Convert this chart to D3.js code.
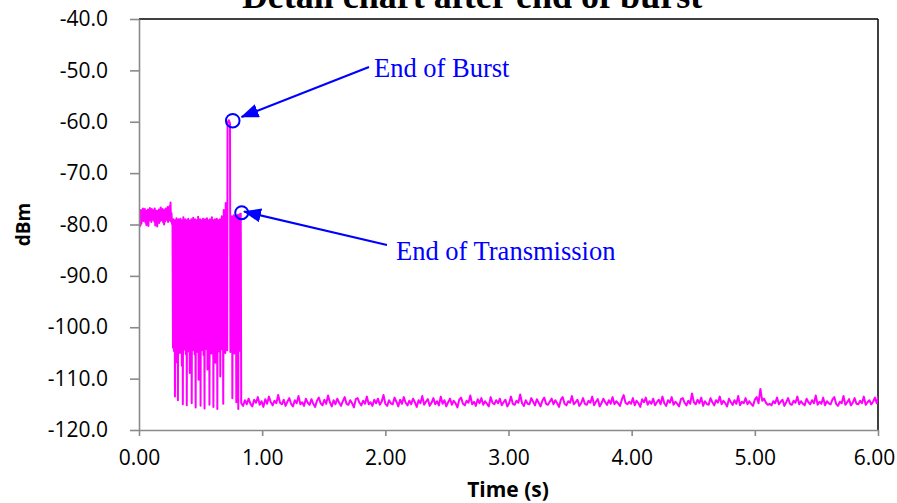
<!DOCTYPE html>
<html><head><meta charset="utf-8">
<script src="https://cdn.jsdelivr.net/npm/d3@7"></script>
<style>body{margin:0;background:#fff;} svg{display:block;}</style>
</head><body>
<svg id="chart" width="897" height="503"></svg>
<script>
// ---------------- DATA ----------------
const chartTitle = "Detail chart after end of burst";
const xLabel = "Time (s)";
const yLabel = "dBm";
const xTicks = [0, 1, 2, 3, 4, 5, 6];
const yTicks = [-40, -50, -60, -70, -80, -90, -100, -110, -120];

// idle signal before the burst (sampled every 4 ms from 0.000 s)
const preStart = 0.000, preStep = 0.004;
const preDbm = [
 -78.0,-80.4,-77.6,-80.2,-77.2,-79.8,-77.5,-79.0,-76.9,-79.3,
 -77.4,-78.8,-77.0,-79.6,-77.8,-80.1,-77.3,-79.9,-77.1,-80.3,
 -77.6,-79.2,-76.8,-78.9,-77.4,-79.5,-77.0,-79.1,-77.7,-78.7,
 -77.2,-79.4,-76.9,-80.2,-77.5,-79.8,-77.3,-80.4,-77.8,-79.0,
 -77.1,-79.7,-77.6,-79.3,-76.7,-78.8,-77.4,-79.2,-77.0,-79.6,
 -77.5,-80.0,-77.2,-79.4,-76.9,-79.1,-77.3,-78.9,-76.6,-79.5,
 -77.0,-79.2,-76.4,-79.0,-75.7,-79.4,-77.8,-79.9
];

// burst modulation (sampled every 4 ms from 0.272 s)
const burstStart = 0.272, burstStep = 0.004;
const burstDbm = [
 -79.2,-104.0,-79.0,-104.6,-79.3,-113.5,-79.1,-104.3,-78.8,-106.8,
 -79.2,-114.2,-79.0,-104.1,-79.4,-105.0,-78.9,-103.9,-79.1,-107.5,
 -79.2,-115.0,-78.6,-104.4,-79.3,-104.0,-79.0,-105.2,-79.2,-115.2,
 -79.1,-104.2,-78.9,-104.7,-79.2,-108.9,-79.3,-104.1,-79.0,-114.8,
 -79.1,-104.5,-78.7,-103.9,-79.2,-105.3,-79.0,-115.6,-79.3,-104.2,
 -79.1,-104.8,-78.5,-110.2,-79.2,-104.0,-79.0,-115.3,-79.2,-104.5,
 -79.1,-104.1,-78.9,-105.4,-79.3,-115.8,-79.0,-104.3,-79.2,-104.0,
 -78.8,-108.2,-79.1,-104.6,-79.2,-115.1,-79.0,-104.2,-79.3,-105.1,
 -78.6,-104.0,-79.1,-115.5,-79.2,-104.4,-79.0,-106.9,-79.2,-104.1,
 -78.9,-115.9,-79.1,-104.7,-79.3,-104.0,-79.0,-109.6,-79.2,-104.3,
 -78.4,-104.1,-79.1,-114.9,-77.2,-104.2,-79.0,-105.0,-75.8,-104.4,
 -79.2
];

// end-of-burst peak
const peakTime = [0.716, 0.719, 0.729, 0.739, 0.742];
const peakDbm  = [-104.5, -60.2, -59.7, -60.3, -104.8];

// tail of the transmission (sampled every 4 ms from 0.746 s)
const tailStart = 0.746, tailStep = 0.004;
const tailDbm = [
 -78.6,-104.2,-78.4,-113.8,-78.5,-104.5,-78.2,-105.1,-78.6,-104.0,
 -78.3,-114.6,-78.5,-104.3,-78.1,-115.9,-78.4,-104.6,-78.0,-104.2,
 -77.9
];

// noise floor after transmission (sampled every 15 ms from 0.830 s)
const floorStart = 0.830, floorStep = 0.015;
const floorDbm = [
 -114.8,-115.3,-114.2,-115.0,-113.9,-114.9,-115.4,-114.1,-114.7,-113.6,-115.1,-114.4,-115.5,-114.0,-114.9,-113.5,-114.6,-115.2,-114.3,-114.8,
 -113.2,-114.7,-115.0,-114.1,-115.3,-114.5,-113.8,-114.9,-115.4,-114.2,-114.8,-113.4,-115.0,-114.6,-115.3,-113.9,-114.7,-115.1,-114.0,-114.9,
 -115.5,-114.3,-113.7,-114.8,-115.2,-114.1,-114.9,-113.3,-114.6,-115.4,-114.2,-115.0,-113.9,-114.7,-115.3,-114.4,-113.6,-114.9,-115.1,-114.2,
 -114.8,-115.6,-114.0,-113.8,-114.7,-115.2,-114.3,-114.9,-113.5,-115.0,-114.6,-115.3,-114.1,-114.8,-113.9,-115.1,-114.5,-113.2,-114.9,-115.3,
 -114.2,-114.8,-115.0,-113.7,-114.5,-115.4,-114.1,-114.9,-113.6,-114.7,-115.2,-114.3,-115.0,-113.9,-114.6,-115.5,-114.2,-114.8,-113.4,-115.1,
 -114.5,-114.0,-115.3,-114.7,-113.8,-115.0,-114.4,-115.2,-113.5,-114.9,-114.2,-115.4,-114.6,-113.9,-115.1,-114.3,-114.8,-115.6,-114.1,-113.7,
 -114.9,-115.2,-114.3,-114.7,-113.3,-115.0,-114.5,-115.3,-114.0,-114.8,-113.8,-115.1,-114.4,-114.9,-115.4,-113.6,-114.7,-115.0,-114.2,-114.8,
 -113.9,-115.2,-114.6,-114.1,-115.4,-114.8,-113.5,-114.9,-115.1,-114.3,-114.7,-113.1,-114.8,-115.3,-114.2,-114.9,-115.0,-113.8,-114.5,-115.2,
 -114.0,-114.7,-115.4,-114.3,-113.7,-114.9,-115.1,-114.5,-113.9,-115.0,-114.2,-114.8,-115.5,-114.1,-113.6,-114.9,-115.2,-114.4,-114.7,-113.4,
 -115.0,-114.6,-114.1,-115.3,-114.8,-113.8,-114.9,-115.1,-114.3,-114.7,-113.5,-115.2,-114.5,-114.0,-115.4,-114.8,-113.9,-114.6,-115.1,-114.2,
 -114.9,-113.6,-115.0,-114.4,-114.8,-115.3,-114.1,-113.2,-114.7,-115.0,-114.5,-114.9,-113.8,-115.2,-114.3,-114.8,-115.5,-114.0,-114.6,-113.7,
 -115.1,-114.4,-114.9,-113.9,-115.2,-114.6,-114.1,-115.0,-113.5,-114.8,-115.3,-114.2,-114.7,-113.6,-115.1,-114.5,-114.9,-115.4,-114.0,-113.8,
 -114.7,-115.2,-114.3,-114.9,-112.9,-114.6,-115.0,-114.1,-114.8,-113.7,-115.3,-114.4,-114.9,-115.1,-113.8,-114.6,-115.2,-114.2,-114.7,-113.5,
 -115.0,-114.3,-114.8,-115.4,-113.9,-114.6,-115.1,-114.2,-114.9,-113.4,-115.2,-114.5,-114.8,-113.8,-115.0,-114.4,-114.9,-115.3,-114.1,-113.6,
 -114.8,-112.0,-114.3,-113.9,-114.7,-115.1,-114.9,-115.2,-114.4,-114.8,-113.7,-115.0,-114.5,-114.1,-115.3,-114.6,-113.8,-114.9,-115.1,-114.3,
 -114.7,-113.5,-115.0,-114.4,-114.9,-115.2,-113.9,-114.6,-115.0,-114.2,-114.8,-113.3,-115.1,-114.5,-114.9,-113.7,-115.2,-114.4,-114.8,-115.0,
 -114.1,-113.6,-114.9,-115.3,-114.5,-114.8,-113.4,-115.1,-114.6,-114.0,-115.2,-114.7,-113.8,-114.9,-115.0,-114.3,-114.8,-113.5,-115.1,-114.6,
 -114.2,-115.0,-114.5,-113.7,-114.8,-113.4
];

// annotations (target in data coordinates)
const annoText   = ["End of Burst", "End of Transmission"];
const annoTime   = [0.761, 0.834];
const annoDbm    = [-59.8, -77.7];

// ---------------- CHART ----------------
const W = 897, H = 503;
const margin = {top: 19, right: 19, bottom: 73, left: 139};
const svg = d3.select("#chart");

const x = d3.scaleLinear().domain([0, 6]).range([margin.left, W - margin.right]);
const y = d3.scaleLinear().domain([-120, -40]).range([H - margin.bottom, margin.top]);

const sampled = (start, step, vals) => vals.map((v, i) => [start + i * step, v]);
const trace = [].concat(
  sampled(preStart, preStep, preDbm),
  sampled(burstStart, burstStep, burstDbm),
  peakTime.map((t, i) => [t, peakDbm[i]]),
  sampled(tailStart, tailStep, tailDbm),
  sampled(floorStart, floorStep, floorDbm)
);

svg.append("defs").append("clipPath").attr("id", "plotClip")
  .append("rect")
  .attr("x", margin.left).attr("y", margin.top)
  .attr("width", W - margin.left - margin.right)
  .attr("height", H - margin.top - margin.bottom);

// title (partly cut off at the top as in the source)
svg.append("text")
  .attr("x", 472).attr("y", 8)
  .attr("text-anchor", "middle")
  .style("font-family", "'Liberation Serif','Times New Roman',serif")
  .style("font-weight", "bold")
  .style("font-size", "36px")
  .text(chartTitle);

// frame top & right (black)
svg.append("line").attr("x1", x(0)).attr("x2", x(6)).attr("y1", y(-40)).attr("y2", y(-40))
  .attr("stroke", "#000").attr("stroke-width", 1.5);
svg.append("line").attr("x1", x(6)).attr("x2", x(6)).attr("y1", y(-40)).attr("y2", y(-120))
  .attr("stroke", "#000").attr("stroke-width", 1.5);

// trace
svg.append("path")
  .datum(trace)
  .attr("clip-path", "url(#plotClip)")
  .attr("fill", "none")
  .attr("stroke", "#ff00ff")
  .attr("stroke-width", 2)
  .attr("stroke-linejoin", "round")
  .attr("d", d3.line().x(d => x(d[0])).y(d => y(d[1])));

// axes
const axisColor = "#8a8a8a";
const tickFont = "'Open Sans','Noto Sans',sans-serif";
const gy = svg.append("g").attr("transform", `translate(${margin.left},0)`)
  .call(d3.axisLeft(y).tickValues(yTicks).tickFormat(d => d.toFixed(1))
    .tickSize(9).tickSizeOuter(0).tickPadding(22));
const gx = svg.append("g").attr("transform", `translate(0,${H - margin.bottom})`)
  .call(d3.axisBottom(x).tickValues(xTicks).tickFormat(d => d.toFixed(2))
    .tickSize(6).tickSizeOuter(0).tickPadding(14));
[gx, gy].forEach(g => {
  g.select(".domain").attr("stroke", axisColor).attr("stroke-width", 1.6);
  g.selectAll(".tick line").attr("stroke", axisColor).attr("stroke-width", 1.6);
  g.selectAll(".tick text").attr("fill", "#000")
    .style("font-family", tickFont).style("font-size", "21px");
});
// keep the last x label inside the picture
gx.selectAll(".tick text").filter(d => d === xTicks[xTicks.length - 1]).attr("dx", "-4");

// axis titles
svg.append("text")
  .attr("transform", `translate(30,${(y(-40) + y(-120)) / 2}) rotate(-90)`)
  .attr("text-anchor", "middle")
  .style("font-family", tickFont).style("font-weight", "bold").style("font-size", "19px")
  .text(yLabel);
svg.append("text")
  .attr("x", 508).attr("y", 497)
  .attr("text-anchor", "middle")
  .style("font-family", tickFont).style("font-weight", "bold").style("font-size", "21px")
  .text(xLabel);

// annotations
const blue = "#0000ff";
svg.select("defs").append("marker")
  .attr("id", "arrowHead").attr("markerUnits", "userSpaceOnUse")
  .attr("markerWidth", 18).attr("markerHeight", 14)
  .attr("refX", 17).attr("refY", 7).attr("orient", "auto")
  .append("path").attr("d", "M0,0 L18,7 L0,14 Z").attr("fill", blue);

const annoLayout = [
  {tx: 374, ty: 77, lx: 369, ly: 67, hx: 241.5, hy: 117, r: 6.8},
  {tx: 396, ty: 260, lx: 387, ly: 245, hx: 244, hy: 211.5, r: 6.5}
];
annoText.forEach((txt, i) => {
  const L = annoLayout[i];
  svg.append("circle")
    .attr("cx", x(annoTime[i])).attr("cy", y(annoDbm[i])).attr("r", L.r)
    .attr("fill", "none").attr("stroke", blue).attr("stroke-width", 2);
  svg.append("line")
    .attr("x1", L.lx).attr("y1", L.ly).attr("x2", L.hx).attr("y2", L.hy)
    .attr("stroke", blue).attr("stroke-width", 2.2)
    .attr("marker-end", "url(#arrowHead)");
  svg.append("text")
    .attr("x", L.tx).attr("y", L.ty)
    .style("font-family", "'Liberation Serif','Times New Roman',serif")
    .style("font-size", "26.5px")
    .attr("fill", blue)
    .text(txt);
});
</script>
</body></html>
